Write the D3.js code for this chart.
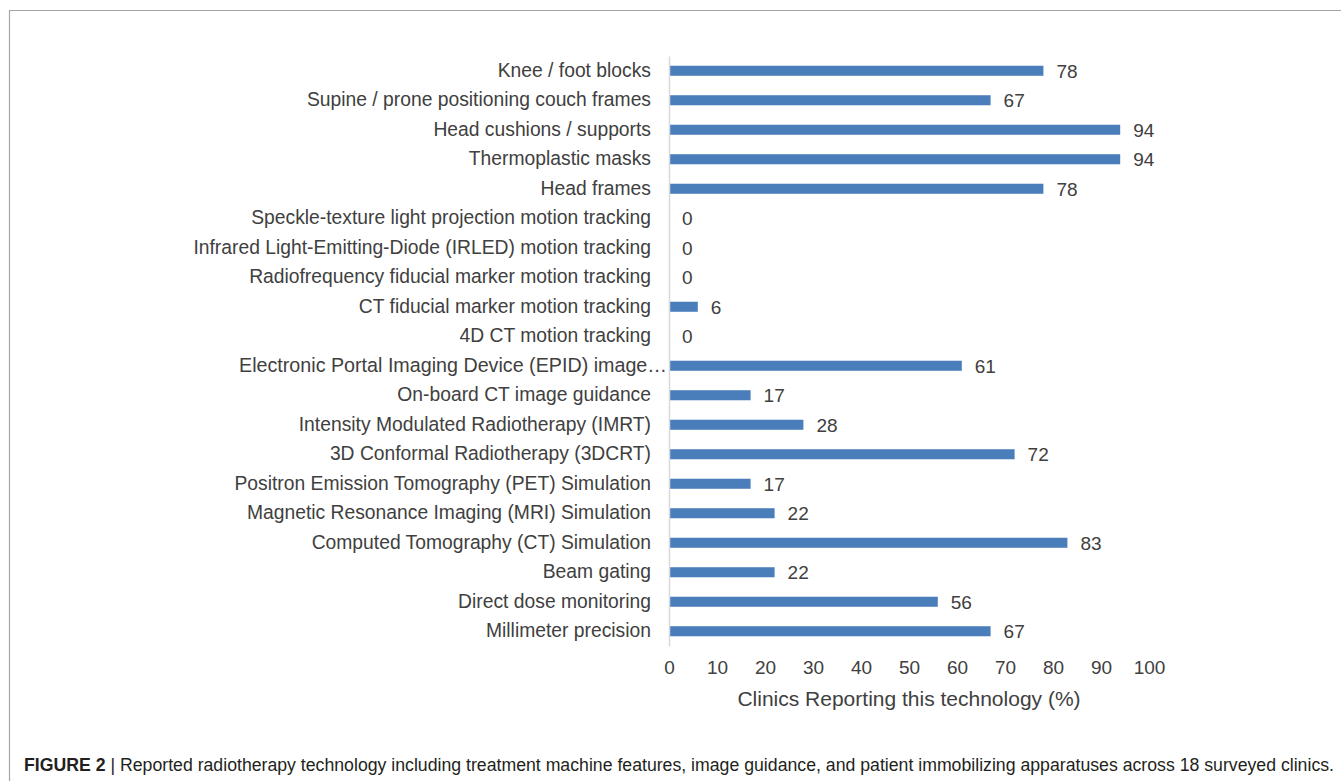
<html>
<script src="https://d3js.org/d3.v7.min.js"></script>
<style>
  body { margin:0; background:#fff; }
  text { font-family:"Liberation Sans", Arial, sans-serif; fill:#404040; }
</style>
<body>
<svg id="plot"></svg>
<script>

// categories, top to bottom
var categories = [
  "Knee / foot blocks",
  "Supine / prone positioning couch frames",
  "Head cushions / supports",
  "Thermoplastic masks",
  "Head frames",
  "Speckle-texture light projection motion tracking",
  "Infrared Light-Emitting-Diode (IRLED) motion tracking",
  "Radiofrequency fiducial marker motion tracking",
  "CT fiducial marker motion tracking",
  "4D CT motion tracking",
  "Electronic Portal Imaging Device (EPID) image\u2026",
  "On-board CT image guidance",
  "Intensity Modulated Radiotherapy (IMRT)",
  "3D Conformal Radiotherapy (3DCRT)",
  "Positron Emission Tomography (PET) Simulation",
  "Magnetic Resonance Imaging (MRI) Simulation",
  "Computed Tomography (CT) Simulation",
  "Beam gating",
  "Direct dose monitoring",
  "Millimeter precision"
];
var percents = [78, 67, 94, 94, 78, 0, 0, 0, 6, 0, 61, 17, 28, 72, 17, 22, 83, 22, 56, 67];
var xTicks = [0, 10, 20, 30, 40, 50, 60, 70, 80, 90, 100];
var xTitle = "Clinics Reporting this technology (%)";
var captionBold = "FIGURE 2";
var captionText = " | Reported radiotherapy technology including treatment machine features, image guidance, and patient immobilizing apparatuses across 18 surveyed clinics.";

var screen = {width:1341, height:781};
var svg = d3.select("#plot")
    .attr("width", screen.width)
    .attr("height", screen.height);

// frame
svg.append("path")
    .attr("d", "M9.5," + screen.height + "V10.5H" + screen.width)
    .attr("fill", "none")
    .attr("stroke", "#a6a6a6")
    .attr("stroke-width", 1.2);

var xScale = d3.scaleLinear()
    .domain([0, 100])
    .range([669, 1149]);

var yScale = d3.scaleBand()
    .domain(categories)
    .range([56, 646])
    .paddingInner(0.66)
    .paddingOuter(0.33);

// bars
svg.append("g")
    .selectAll("rect")
    .data(percents)
    .enter()
    .append("rect")
    .attr("x", xScale(0))
    .attr("y", function(d, i) { return yScale(categories[i]); })
    .attr("width", function(d) { return xScale(d) - xScale(0); })
    .attr("height", yScale.bandwidth())
    .attr("fill", "#4a7ebb");

// value labels
svg.append("g")
    .selectAll("text")
    .data(percents)
    .enter()
    .append("text")
    .attr("x", function(d) { return xScale(d) + 13; })
    .attr("y", function(d, i) { return yScale(categories[i]) + yScale.bandwidth() / 2; })
    .attr("dy", "0.36em")
    .style("font-size", "19px")
    .text(function(d) { return d; });

// category axis
var yAxis = d3.axisLeft(yScale).tickSize(0).tickPadding(18);
var yg = svg.append("g")
    .attr("transform", "translate(" + xScale(0) + ",0)")
    .call(yAxis);
yg.select(".domain").attr("stroke", "#d9d9d9").attr("stroke-width", 1.5);
yg.selectAll("text").style("font-size", "19.3px").attr("fill", "#404040");
// the truncated label runs right up to the axis
yg.selectAll("text")
    .filter(function(d) { return d.slice(-1) == "\u2026"; })
    .attr("dx", 16)
    .attr("textLength", 428)
    .attr("lengthAdjust", "spacingAndGlyphs");

// value axis (labels only)
var xAxis = d3.axisBottom(xScale).tickValues(xTicks).tickSize(0).tickPadding(15);
var xg = svg.append("g")
    .attr("transform", "translate(0,646)")
    .call(xAxis);
xg.select(".domain").remove();
xg.selectAll("text").style("font-size", "19px").attr("fill", "#404040");

svg.append("text")
    .attr("x", xScale(50))
    .attr("y", 706)
    .attr("text-anchor", "middle")
    .style("font-size", "21px")
    .text(xTitle);

// caption
var cap = svg.append("text")
    .attr("x", 24)
    .attr("y", 771)
    .attr("textLength", 1310)
    .attr("lengthAdjust", "spacingAndGlyphs")
    .style("font-family", "'Liberation Sans Narrow', 'Liberation Sans', Arial, sans-serif")
    .style("font-size", "17.5px");
cap.append("tspan")
    .style("font-weight", "bold")
    .attr("fill", "#231f20")
    .text(captionBold);
cap.append("tspan")
    .attr("fill", "#231f20")
    .text(captionText);

</script>
</body>
</html>
